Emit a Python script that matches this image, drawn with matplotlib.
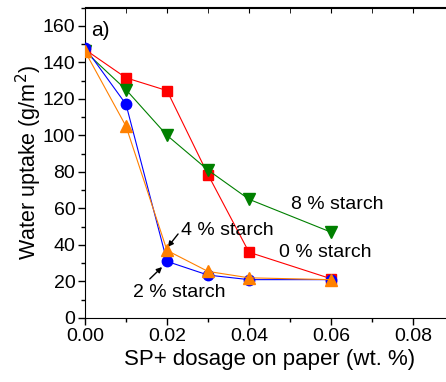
import matplotlib
matplotlib.use("Agg")
import matplotlib.pyplot as plt
from matplotlib.ticker import MultipleLocator

plt.rcParams['font.family'] = ['Liberation Sans', 'DejaVu Sans']

dosage = [0.0, 0.01, 0.02, 0.03, 0.04, 0.06]
starch0 = [147, 131.5, 124.5, 78.5, 36, 21.5]
starch2 = [148, 117, 31, 23.5, 21, 21]
starch4 = [146, 105, 37, 25.5, 22, 21]
starch8 = [146, 125, 100, 81, 65, 47]

fig = plt.figure(figsize=(4.46, 3.82), dpi=100)
ax = fig.add_axes([85/446, 64/382, 369/446, 310.5/382])

ax.plot(dosage, starch0, color='#ff0000', marker='s', ms=6.5, lw=0.8, zorder=3)
ax.plot(dosage, starch8, color='#008000', marker='v', ms=8, lw=0.8, zorder=3)
ax.plot(dosage, starch2, color='#0000ff', marker='o', ms=7.5, lw=0.8, zorder=4)
ax.plot(dosage, starch4, color='#ff8000', marker='^', ms=8, lw=0.8, zorder=4)

ax.set_xlim(0, 0.09)
ax.set_ylim(0, 170)
ax.xaxis.set_minor_locator(MultipleLocator(0.01))
ax.yaxis.set_major_locator(MultipleLocator(20))
ax.yaxis.set_minor_locator(MultipleLocator(10))
ax.set_xticks([0, 0.02, 0.04, 0.06, 0.08])
ax.set_xticklabels(['0.00', '0.02', '0.04', '0.06', '0.08'])
ax.tick_params(axis='both', which='major', labelsize=14, direction='out', length=5, width=1, pad=2)
ax.tick_params(axis='both', which='minor', direction='out', length=3, width=1)
ax.tick_params(axis='x', which='both', top=False)

# top ticks inward
secx = ax.secondary_xaxis('top')
secx.set_xticks([0.02, 0.04, 0.06, 0.08])
secx.set_xticklabels([])
secx.xaxis.set_minor_locator(MultipleLocator(0.01))
secx.tick_params(which='major', direction='in', length=4)
secx.tick_params(which='minor', direction='in', length=4)

ax.set_xlabel('SP+ dosage on paper (wt. %)', fontsize=16, labelpad=3)
ax.set_ylabel('Water uptake (g/m$^2$)', fontsize=15.5)
ax.yaxis.set_label_coords(-0.112, 0.5)

ax.text(0.0015, 157.5, 'a)', fontsize=15, va='center', ha='left')
ax.text(0.0502, 62, '8 % starch', fontsize=14, va='center', ha='left')
ax.text(0.0473, 35.6, '0 % starch', fontsize=14, va='center', ha='left')
ax.text(0.0234, 47.7, '4 % starch', fontsize=14, va='center', ha='left')
ax.text(0.0117, 13.7, '2 % starch', fontsize=14, va='center', ha='left')
ax.annotate('', xy=(0.0202, 38.9), xytext=(0.0227, 46),
            arrowprops=dict(arrowstyle='-|>', color='black', lw=1, shrinkA=0, shrinkB=0,
                            mutation_scale=8))
ax.annotate('', xy=(0.0188, 27.9), xytext=(0.0158, 21.4),
            arrowprops=dict(arrowstyle='-|>', color='black', lw=1, shrinkA=0, shrinkB=0,
                            mutation_scale=8))

fig.savefig('out.png', dpi=100)
